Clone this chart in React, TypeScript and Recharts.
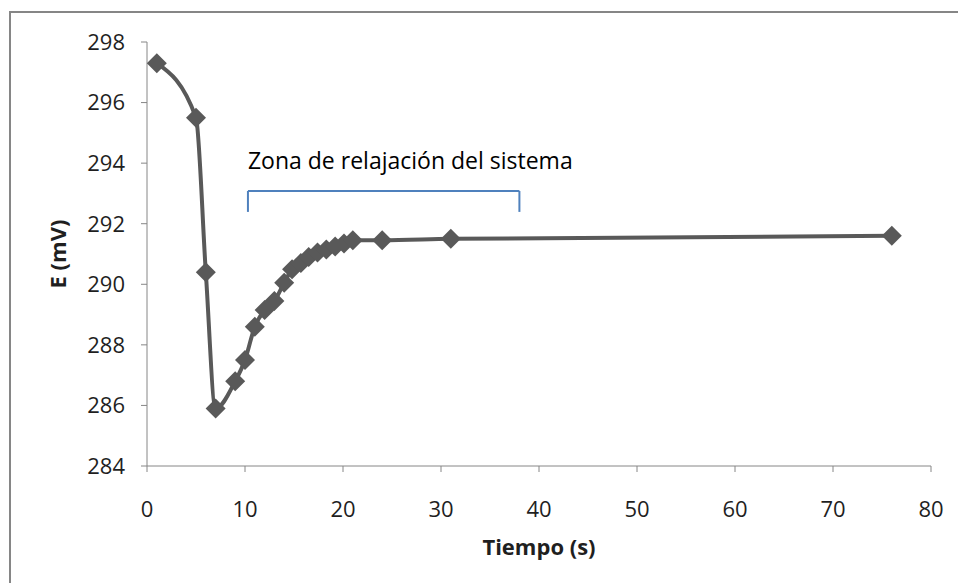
import React from 'react';
import {
  LineChart, Line, XAxis, YAxis, ReferenceLine, Label
} from 'recharts';

// --- data ---
const tiempo = [1, 5, 6, 7, 9, 10, 11, 12, 13, 14, 14.8, 15.7, 16.5, 17.4, 18.3, 19.2, 20.1, 21, 24, 31, 76];
const potencial = [297.3, 295.5, 290.4, 285.9, 286.8, 287.5, 288.6, 289.15, 289.45, 290.05, 290.5, 290.7, 290.9, 291.05, 291.15, 291.25, 291.35, 291.45, 291.45, 291.5, 291.6];
const xTicks = [0, 10, 20, 30, 40, 50, 60, 70, 80];
const yTicks = [284, 286, 288, 290, 292, 294, 296, 298];

// bracket marking the relaxation zone (data coords)
const zonaInicio = 10.3;
const zonaFin = 38;
const zonaTop = 293.08;
const zonaBottom = 292.39;
const zonaTexto = 'Zona de relajación del sistema';

const data = tiempo.map((t, i) => ({ t, e: potencial[i] }));

const FONT = '"Open Sans", sans-serif';
const GRAY = '#595959';
const AXIS = '#868686';
const BLUE = '#4f81bd';

const Diamond = (props: any) => {
  const { cx, cy } = props;
  if (cx == null || cy == null) return null;
  const r = 10;
  return (
    <path
      d={`M${cx},${cy - r}L${cx + r},${cy}L${cx},${cy + r}L${cx - r},${cy}Z`}
      fill={GRAY}
      stroke="none"
    />
  );
};

const tickStyle = { fill: '#1f1f1f', fontSize: 22, fontFamily: FONT };

export default function App() {
  return (
    <div style={{ position: 'absolute', left: 0, top: 0, width: 958, height: 583, background: '#fff', overflow: 'hidden' }}>
      <div
        style={{
          position: 'absolute', left: 9, top: 11, width: 980, height: 600,
          border: `2px solid ${AXIS}`, boxSizing: 'border-box',
        }}
      />
      <div style={{ position: 'absolute', left: 0, top: 0 }}>
        <LineChart
          width={958}
          height={583}
          data={data}
          margin={{ top: 42, right: 27, left: 87, bottom: 87 }}
        >
          <XAxis
            type="number"
            dataKey="t"
            domain={[0, 80]}
            ticks={xTicks}
            interval={0}
            height={30}
            stroke={AXIS}
            tickSize={6}
            tickLine={{ stroke: AXIS }}
            tick={tickStyle}
            tickMargin={29}
          >
            <Label
              value="Tiempo (s)"
              position="bottom"
              offset={43}
              style={{ fill: '#1f1f1f', fontSize: 22, fontWeight: 700, fontFamily: FONT }}
            />
          </XAxis>
          <YAxis
            type="number"
            domain={[284, 298]}
            ticks={yTicks}
            interval={0}
            width={60}
            stroke={AXIS}
            tickSize={6}
            tickLine={{ stroke: AXIS }}
            tick={tickStyle}
            tickMargin={16}
          >
            <Label
              value="E (mV)"
              angle={-90}
              position="insideLeft"
              offset={-29}
              style={{ fill: '#1f1f1f', fontSize: 22, fontWeight: 700, fontFamily: FONT, textAnchor: 'middle' }}
            />
          </YAxis>
          <ReferenceLine
            segment={[{ x: zonaInicio, y: zonaTop }, { x: zonaFin, y: zonaTop }]}
            stroke={BLUE}
            strokeWidth={2}
            label={(p: any) => (
              <text x={p.viewBox.x} y={p.viewBox.y - 22} fill="#000" fontSize={23} fontFamily={FONT}>
                {zonaTexto}
              </text>
            )}
          />
          <ReferenceLine
            segment={[{ x: zonaInicio, y: zonaTop }, { x: zonaInicio, y: zonaBottom }]}
            stroke={BLUE}
            strokeWidth={2}
          />
          <ReferenceLine
            segment={[{ x: zonaFin, y: zonaTop }, { x: zonaFin, y: zonaBottom }]}
            stroke={BLUE}
            strokeWidth={2}
          />
          <Line
            type="monotoneX"
            dataKey="e"
            stroke={GRAY}
            strokeWidth={4}
            dot={<Diamond />}
            activeDot={false}
            isAnimationActive={false}
          />
        </LineChart>
      </div>
    </div>
  );
}
